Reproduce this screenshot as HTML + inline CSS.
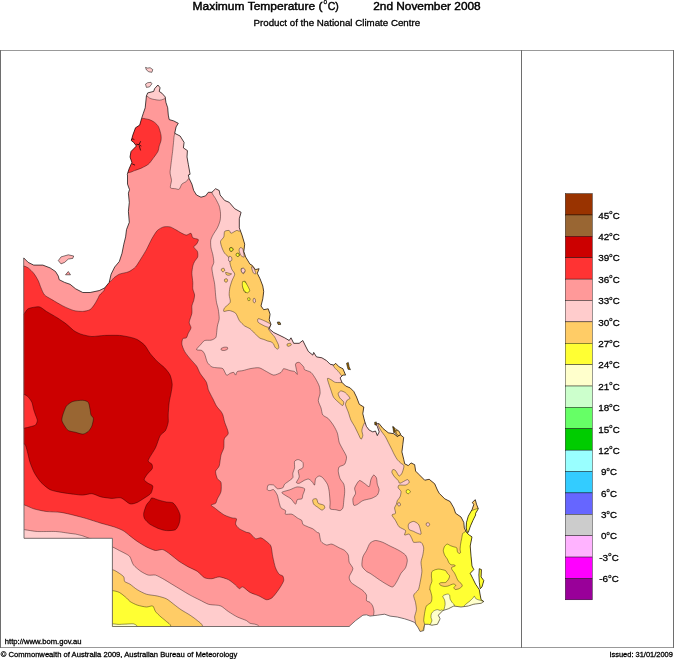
<!DOCTYPE html>
<html lang="en">
<head>
<meta charset="utf-8">
<title>Maximum Temperature (°C) 2nd November 2008</title>
<style>
html,body{margin:0;padding:0;background:#fff;}
body{width:674px;height:659px;overflow:hidden;position:relative;font-family:"Liberation Sans",sans-serif;color:#000;}
svg{position:absolute;left:0;top:0;display:block;}
text{font-family:"Liberation Sans",sans-serif;fill:#000;}
.tx text{stroke:#000;stroke-width:0.28;}
.tx text.tt{stroke-width:0.42;}
.rg path{stroke:#000;stroke-width:0.4;stroke-linejoin:round;}
</style>
</head>
<body>
<svg width="674" height="659" viewBox="0 0 674 659">
<rect x="0" y="0" width="674" height="659" fill="#fff"/>
<g fill="none" stroke="#999" stroke-width="1" shape-rendering="crispEdges"><line x1="0" y1="50.5" x2="674" y2="50.5"/><line x1="0" y1="647.5" x2="674" y2="647.5"/><line x1="0.5" y1="50" x2="0.5" y2="648" stroke="#6e6e6e"/><line x1="521.5" y1="50" x2="521.5" y2="648" stroke="#6e6e6e"/><line x1="673.5" y1="50" x2="673.5" y2="648" stroke="#6e6e6e"/></g>
<defs><clipPath id="qld"><path d="M23.7,257.9 28.2,262.4 33.7,265.1 42.8,265.1 50.1,267.9 55.5,271.5 58.3,276.1 59.2,279.7 64.6,282.4 70.1,284.3 75.6,288.8 82.8,292.5 90.1,292.5 99.2,290.6 104.7,287.9 109.2,282.4 111.1,274.2 114.7,267 119.3,261.5 122,253.3 123.8,244.2 125.6,236.9 126.5,229.6 129.3,222.3 128.4,211.4 129.3,202.3 128.4,193.2 129.5,189.6 127.5,184.1 127.5,175 127.3,174.3 129.1,168.8 131.9,162.4 130,157 131,151.5 136.4,146 133.7,142.4 131.3,140.6 132.8,135.1 135.5,127.8 139.7,125.1 141.5,118.7 143.3,113.3 145.2,107.8 146.4,96 147.7,92.9 153.7,91.4 154.6,88.7 157.9,85 160.1,87.8 159.2,91.4 161.9,93.2 165.2,96.9 165.9,102.3 167.7,107.8 168.3,115.1 169.2,119.6 173.7,120.9 178.3,123.3 176.1,126.9 174.7,133.3 180.1,136 184.1,142.4 183.4,147.9 187.4,150.6 187,157 188.3,164.3 190.1,174.3 188.3,175 189.2,178.6 191.9,184.1 193.7,190.5 196.5,195 201,197.2 205.6,195.9 208.3,192.3 211.9,192.3 215.6,188.7 219.2,190.5 220.1,195 224.7,200.5 229.2,202.3 234.7,208.7 241.1,212.3 239.3,218.7 239.3,227.8 242,235.1 244.7,244.2 243.8,251.5 245.6,256.9 250,264.2 251.9,265.1 255.5,269.6 259.1,268.7 257.3,273.3 260,278.7 262.8,286 263.7,291.5 262.8,298.8 261,306 263.7,309.7 268.2,308.8 270.1,314.2 269.2,319.7 271,324.3 269.2,328.8 273.7,332.5 279.1,335.1 284.6,337.8 289.2,340.5 291,337.8 293.7,343.3 299.2,343.3 302.8,340.5 305.5,346 308.3,351.4 312.8,355.1 313.7,352.4 316.5,356.9 321.9,357.8 326.5,360.6 330.1,364.2 333.8,365.1 335.6,363.3 339.2,366.9 342.9,368.7 345.6,375.1 342.9,375.1 340.1,377.9 342,382.4 345.6,386 350.2,387.9 353.8,391.5 356.5,397 359.3,404.3 363.8,407 362.8,413.7 364.6,421 366.4,426.4 369.2,430.1 372.8,431.9 375.5,431 377.3,435.6 379.2,431.9 377.3,426.4 375.5,423.7 379.2,423.7 382.8,428.3 388.3,432.8 393.7,433.7 397.4,436.5 400.1,434.6 403.7,437.4 402.8,444.7 401.9,451.9 403.7,459.2 404.7,463.8 408.3,465.6 411,462.9 414.7,464.7 415.6,471.1 419.2,474.7 424.7,480.2 429.2,479.3 434.7,483.8 437.4,490 439.2,493.3 444.7,498.8 450.1,501.5 453.8,507.9 455.6,513.3 461,517 463.8,522.4 464.3,527.9 466.5,532.5 469.2,535 472,536.9 470.2,546 471.1,556.9 472,566 473.8,569.6 470.2,573.3 472.9,578.7 475.6,584.2 479.3,589.7 480.2,595.1 481.1,599.7 483.8,601.5 481.1,603.3 473.8,604.2 468.3,606 461,607 453.8,606 448.3,608.8 442.8,610.6 438.3,615.2 440.1,618.8 437.4,624.3 431.9,625.2 428.3,624.3 424.6,624.3 423.7,630.6 420.1,631.5 418.3,627.9 414.6,622.4 410.1,620.6 404.6,618.8 397.3,617 390,616.1 384.6,614.2 377.3,615.2 370,616.1 366.5,614.8 362.9,615.2 355.6,620.6 349.2,626.4 349.3,626.5 112.4,626.5 112.4,538.3 24,538.3ZM475.3,499.7 472.3,502.4 473.8,504.6 472,509.7 468.3,516.1 466.5,522.4 466.1,527.9 467.4,532.5 468.3,532.3 470.5,525.9 472.9,520.5 475.6,515 475.6,513.3 478.3,508.8 476.5,504.2ZM479.3,568.7 481.4,569.6 481.1,576.9 483.8,580.6 482,586.9 480.2,588.7 479.3,582.4 478.9,575.1Z"/></clipPath></defs>
<g clip-path="url(#qld)" class="rg">
<rect x="0" y="50" width="521" height="597" fill="#ff9999"/>
<path d="M142.8,95.4C142.5,96.9 146.0,95.7 146.8,96C147.6,96.3 148.8,97.6 149.5,98C150.2,98.4 151.6,98.9 152.8,99.2C154.1,99.5 158.2,100.2 159.5,100.2C160.8,100.2 162.0,99.7 162.8,99.4C163.6,99.1 164.8,98.9 165.6,98C166.5,97.0 170.8,93.6 170.1,91.4C169.4,89.2 162.7,81.6 160.1,80.5C157.5,79.4 151.4,80.4 149.2,82.3C147.0,84.2 143.1,93.7 142.8,95.4Z" fill="#ffcccc"/>
<path d="M174.7,134.2C173.9,135.6 173.9,138.7 173.7,140.6C173.5,142.5 173.0,147.6 172.8,149.7C172.6,151.8 172.1,155.2 171.9,157C171.7,158.8 171.2,162.5 171,164.3C170.8,166.1 170.2,170.2 170.1,171.5C170.0,172.8 170.2,173.9 170.4,175C170.6,176.1 171.5,178.9 171.5,180.5C171.5,182.1 169.9,186.7 170.4,187.7C170.9,188.7 174.4,188.5 175.5,188.7C176.6,188.9 178.4,189.8 179.2,189.2C180.0,188.6 181.0,185.1 181.9,184.1C182.8,183.1 185.6,182.1 186.4,181.4C187.2,180.7 187.8,179.4 188.6,178.6C189.4,177.8 191.8,175.9 192.8,175C193.8,174.1 196.4,173.4 196.5,171.5C196.7,166.5 196.8,140.3 194.7,135.1C192.6,129.9 182.6,129.8 180.1,129.7C177.6,129.6 175.5,132.8 174.7,134.2Z" fill="#ffcccc"/>
<path d="M211.9,192.3C212.0,194.0 214.7,197.0 215.6,198.7C216.5,200.4 218.6,204.2 219.2,206C219.8,207.8 220.4,211.4 220.5,213.2C220.6,215.0 220.5,218.7 220.1,220.5C219.7,222.3 218.3,226.0 217.4,227.8C216.5,229.6 213.7,233.5 212.9,235.1C212.1,236.7 210.9,239.0 210.7,240.6C210.5,242.2 210.7,246.0 211,247.8C211.3,249.6 212.6,253.3 212.9,255.1C213.2,256.9 213.9,260.8 213.8,262.4C213.7,264.0 212.0,266.3 211.9,267.9C211.8,269.5 212.6,273.1 212.9,275.2C213.2,277.2 214.4,281.8 214.7,284.3C215.0,286.8 215.4,292.8 215.6,295C215.8,297.2 216.2,300.5 216.5,302.3C216.8,304.1 218.0,307.6 218.3,309.6C218.6,311.7 219.3,316.6 219.2,318.7C219.1,320.8 217.7,324.1 217.4,326C217.1,327.9 216.7,332.7 216.5,334.2C216.3,335.6 216.3,337.1 215.6,337.8C214.9,338.6 212.4,339.9 211,340.2C209.6,340.5 205.9,340.0 204.7,340.5C203.4,341.0 202.0,343.1 201,344.2C200.0,345.3 196.4,348.8 196.5,349.6C196.6,350.4 200.9,349.9 201.9,350.5C202.9,351.1 204.0,352.7 204.7,354.2C205.4,355.7 206.5,360.8 207.4,362.4C208.3,364.0 210.7,366.2 211.9,366.9C213.2,367.6 216.0,367.6 217.4,367.8C218.8,368.0 221.8,367.8 222.9,368.7C224.0,369.6 225.6,374.5 226.5,375.1C227.4,375.7 229.3,373.6 230.2,373.3C231.1,373.0 233.1,372.2 233.8,372.4C234.5,372.6 235.2,375.2 235.6,375.1C236.0,375.0 236.5,372.1 237.4,371.5C238.3,370.9 241.3,371.0 242.9,370.6C244.5,370.2 248.0,369.1 250,368.7C252.0,368.3 257.1,367.4 259.1,367.8C261.2,368.2 264.6,370.6 266.4,371.5C268.2,372.4 271.9,375.0 273.7,375.1C275.5,375.2 279.8,373.2 281,372.4C282.2,371.6 282.6,368.9 283.7,368.7C284.8,368.5 288.7,370.2 290.1,370.6C291.5,371.0 293.7,371.1 294.6,371.5C295.5,371.9 297.2,375.1 297.3,374.2C297.4,373.3 295.3,365.7 295.5,364.2C295.7,362.7 298.2,362.1 299.2,362.4C300.2,362.7 303.0,366.0 303.7,366.9C304.4,367.8 303.7,369.0 304.6,369.7C305.5,370.4 309.6,371.3 311,372.4C312.4,373.5 314.6,377.1 315.6,378.8C316.6,380.5 318.6,384.2 319.2,386C319.8,387.8 320.2,391.5 320.1,393.3C320.0,395.1 318.2,398.8 318.3,400.6C318.4,402.4 320.4,406.1 321,407.9C321.6,409.7 321.9,413.7 322.8,415C323.7,416.3 326.9,417.2 328.3,418.6C329.7,420.0 332.7,424.1 333.8,425.9C334.9,427.7 336.7,431.1 337.4,433.2C338.1,435.2 338.5,440.2 339.2,442.3C339.9,444.4 342.0,447.8 342.9,449.6C343.8,451.4 346.3,455.1 346.5,456.9C346.7,458.7 345.6,462.9 344.7,464.2C343.8,465.4 340.0,466.0 339.2,466.9C338.4,467.8 338.2,469.9 338.3,471.4C338.4,472.9 339.4,477.1 340.1,478.7C340.8,480.3 343.2,482.6 343.8,484.2C344.4,485.8 344.7,489.4 344.7,491.5C344.7,493.6 344.0,498.6 343.8,500.6C343.6,502.7 343.4,506.6 342.9,507.9C342.4,509.1 341.0,510.4 340.1,510.6C339.2,510.8 336.9,509.9 335.6,509.7C334.4,509.5 330.8,509.7 330.1,508.8C329.4,507.9 330.2,504.6 330.1,502.4C330.0,500.2 329.5,493.8 329.2,491.5C328.9,489.2 328.2,485.9 327.4,484.2C326.6,482.5 323.8,478.8 322.8,477.8C321.8,476.8 320.1,475.9 319.2,476C318.3,476.1 316.2,477.6 315.6,478.7C315.0,479.8 315.0,484.7 314.6,485.1C314.2,485.5 313.1,482.8 312.3,482C311.6,481.2 309.6,479.3 308.6,479.1C307.6,478.9 305.8,479.7 304.6,480.2C303.4,480.7 300.2,483.0 299.2,483.3C298.2,483.6 296.4,483.2 296.4,482.4C296.4,481.6 299.0,478.4 299.2,476.9C299.4,475.4 297.9,471.6 298.3,470.5C298.8,469.4 302.2,468.8 302.8,467.8C303.4,466.8 303.4,463.3 302.8,462.3C302.2,461.3 299.3,459.7 298.3,459.6C297.3,459.5 295.1,460.4 294.6,461.4C294.1,462.4 294.8,466.3 294.6,467.8C294.4,469.3 293.0,472.1 292.8,473.3C292.6,474.6 293.4,476.8 292.8,477.8C292.2,478.8 289.2,480.7 288.2,481.5C287.2,482.3 285.3,483.4 284.6,484.2C283.9,485.0 283.7,487.2 282.8,487.8C281.9,488.4 278.4,489.0 277.3,488.7C276.2,488.4 274.8,485.6 273.7,485.1C272.6,484.7 269.0,484.5 268.2,485.1C267.4,485.7 267.1,489.0 267.3,489.7C267.5,490.4 269.2,490.6 270,490.6C270.8,490.6 272.8,489.1 273.7,489.7C274.6,490.3 276.6,493.5 277.3,495.1C278.0,496.7 278.6,500.8 279.1,502.4C279.6,504.0 280.2,506.9 281,507.9C281.8,508.9 284.9,509.8 285.5,510.6C286.1,511.4 284.7,513.8 285.5,514.2C286.3,514.7 290.4,513.7 291.9,514.2C293.4,514.7 296.1,517.1 297.3,517.9C298.6,518.7 301.2,519.8 301.9,520.6C302.6,521.4 302.0,523.5 302.8,524.3C303.6,525.1 307.1,526.4 308.3,527C309.6,527.6 311.7,528.1 312.8,528.8C313.9,529.5 316.6,532.0 317.4,532.5C318.0,532.9 318.9,532.5 319.2,533.2C319.6,534.3 320.1,539.9 321,541.4C321.9,542.9 325.1,544.7 326.5,545C327.9,545.3 330.3,543.8 331.9,544.1C333.5,544.5 337.6,547.0 339.2,547.8C340.8,548.6 343.6,549.6 344.7,550.5C345.8,551.4 347.7,553.6 348.3,555.1C348.9,556.6 348.6,560.6 349.2,562.3C349.8,564.0 352.9,566.9 352.9,568.7C352.9,570.5 349.4,575.2 349.2,576.9C349.0,578.6 350.1,581.1 351.1,582.4C352.1,583.6 355.9,585.9 357.4,586.9C358.9,587.9 361.8,589.6 362.9,590.6C364.0,591.6 366.1,593.9 366.5,595.1C366.9,596.4 366.1,599.7 366.5,600.6C366.9,601.5 369.2,601.7 370,602.4C370.8,603.1 372.2,604.9 372.7,606C373.2,607.1 373.9,610.4 374,611.5C374.1,612.6 373.6,613.8 373.6,615.2C373.5,619.4 361.9,642.7 373,645C391.3,648.7 502.5,698.0 520,645C538.4,589.4 552.5,256.2 520,200C487.5,143.8 298.1,196.9 260,195C242.5,194.1 221.0,185.3 215,185C212.0,184.8 211.8,190.6 211.9,192.3Z" fill="#ffcccc"/>
<path d="M24.6,529.7C27.4,530.0 33.4,531.3 37.3,531.5C41.2,531.7 51.4,531.3 55.5,531.5C59.6,531.7 67.6,533.1 70.1,533.4C72.2,533.7 74.0,533.8 75.6,534.1C77.2,534.4 81.1,535.4 82.8,535.9C84.5,536.4 86.8,537.4 89.2,538.3C92.9,539.7 108.5,545.4 112.3,546.9C115.1,548.0 117.5,549.6 119.3,550.5C121.1,551.4 125.2,553.4 126.5,554.2C127.8,555.0 129.1,555.5 130,556.9C130.9,558.3 132.2,563.3 133.6,565.1C135.0,566.9 139.1,570.1 140.9,571.4C142.7,572.6 146.4,574.6 148.2,575.1C150.0,575.6 153.7,574.6 155.5,575.1C157.3,575.6 160.8,577.6 162.8,578.7C164.9,579.8 169.6,582.8 171.9,584.2C174.2,585.6 178.7,588.3 181,589.7C183.3,591.1 187.8,593.9 190.1,595.1C192.4,596.4 196.9,598.6 199.2,599.7C201.5,600.8 206.2,603.5 208.3,604.2C210.4,604.9 214.0,604.9 215.6,605.1C217.2,605.3 219.4,605.2 221,606C222.6,606.8 226.2,610.1 228.3,611.5C230.4,612.9 235.1,615.9 237.4,617C239.7,618.1 244.9,619.8 246.5,620.6C248.0,621.4 248.5,622.6 250,623.3C251.6,624.0 257.6,623.7 259.1,626.4C260.6,629.1 269.1,644.5 262,645C231.5,647.3 45.9,659.5 15,645C-15.9,630.5 13.8,543.4 15,529C15.3,525.4 21.8,529.4 24.6,529.7Z" fill="#ffcccc"/>
<path d="M281.9,492.4C282.4,491.6 288.2,490.4 290.1,489.7C292.0,489.0 295.5,487.0 297.3,486.9C299.1,486.8 303.9,487.7 304.6,488.7C305.3,489.7 303.1,493.8 302.8,495.1C302.5,496.4 302.6,498.2 301.9,498.8C301.2,499.4 298.1,499.0 297.3,499.7C296.5,500.4 296.3,504.3 295.5,504.2C294.7,504.1 292.1,499.8 291,498.8C289.9,497.8 287.5,496.8 286.4,496C285.3,495.2 281.4,493.2 281.9,492.4Z" fill="#ff9999"/>
<path d="M359.3,480.6C360.5,480.1 363.4,482.8 364.6,483.5C365.8,484.2 368.4,487.1 369.2,486.6C370.0,486.1 370.4,480.7 371,479.3C371.6,477.9 372.9,475.3 373.6,475.1C374.3,474.9 375.9,476.7 376.4,477.8C376.9,478.9 377.0,482.7 377.3,484.2C377.6,485.7 379.1,488.3 379.1,489.7C379.1,491.1 378.1,494.1 377.3,495.1C376.5,496.1 373.6,497.4 372.7,497.9C371.8,498.4 371.0,498.5 370,498.8C368.8,499.1 364.5,499.9 362.9,500.6C361.3,501.3 358.6,503.7 357.5,504.3C356.4,504.9 354.4,505.9 353.8,505.2C353.2,504.5 352.7,500.3 352.9,498.8C353.1,497.3 355.4,494.7 355.6,493.3C355.8,491.9 354.2,489.5 354.7,487.9C355.2,486.3 358.1,481.2 359.3,480.6Z" fill="#ff9999"/>
<path d="M366.5,550.5C365.6,552.2 363.5,555.0 362.9,556.9C362.3,558.8 361.6,564.2 362,566C362.4,567.8 365.5,570.5 366.5,571.4C367.5,572.3 368.7,572.5 370,573.3C371.6,574.3 377.1,578.2 379.1,579.6C381.2,581.0 384.7,583.3 386.4,584.2C388.1,585.1 391.4,587.4 392.8,586.9C394.2,586.4 396.3,582.3 397.3,580.6C398.3,578.9 400.0,574.9 401,573.3C402.0,571.7 404.7,569.4 405.5,567.8C406.3,566.2 407.3,562.1 407.3,560.5C407.3,558.9 406.5,556.4 405.5,555.1C404.5,553.9 401.0,551.6 399.1,550.5C397.2,549.4 392.1,547.0 390,546C387.9,545.0 384.5,543.0 382.7,542.3C380.9,541.6 377.1,540.4 375.5,540.5C373.9,540.6 371.1,542.0 370,543.2C368.9,544.5 367.4,548.8 366.5,550.5Z" fill="#ff9999"/>
<path d="M221,348.7C221.3,348.3 223.0,347.5 223.8,347.3C224.6,347.1 227.0,347.1 227.4,347.4C227.8,347.6 227.8,348.9 227.4,349.3C227.0,349.7 225.0,350.4 224.3,350.5C223.6,350.6 222.0,350.4 221.6,350.2C221.2,350.0 220.7,349.1 221,348.7Z" fill="#ff9999"/>
<path d="M224.7,231.4C224.0,232.2 224.3,235.6 223.8,236.9C223.3,238.2 220.7,240.1 220.5,241.5C220.3,242.9 221.5,246.3 222,247.8C222.5,249.3 223.8,252.0 224.7,253.3C225.6,254.6 228.5,256.5 229.2,257.9C229.9,259.3 229.8,262.7 230.2,264.2C230.5,265.7 231.4,268.4 232,269.7C232.6,270.9 234.7,272.8 234.7,274.2C234.7,275.6 232.6,278.9 232,280.6C231.4,282.3 230.2,286.1 229.8,287.9C229.5,289.7 229.1,293.2 229.2,295C229.2,296.8 230.8,300.7 230.2,302.3C229.6,303.9 225.5,306.6 224.7,307.7C223.9,308.8 223.2,311.0 223.8,311.4C224.4,311.8 227.7,310.3 229.2,310.5C230.7,310.7 234.3,311.9 235.6,313.2C236.9,314.4 238.2,318.9 239.3,320.5C240.4,322.1 243.4,325.0 244.7,326C246.0,327.0 248.7,327.7 250,328.7C251.3,329.7 254.2,333.0 255.5,334.2C256.8,335.4 259.0,337.6 260,338.2C261.0,338.8 262.8,339.1 263.7,339.4C264.6,339.7 266.4,340.6 267.3,340.9C268.2,341.2 270.1,341.5 270.9,341.8C271.6,342.1 272.8,342.9 273.3,343.6C273.8,344.3 274.6,346.6 275.1,347.3C275.6,348.0 277.0,349.1 277.5,349.1C278.0,349.1 278.7,348.2 278.8,347.6C278.9,347.0 278.5,345.1 278.2,344.2C277.9,343.3 276.8,341.4 276.4,340.5C275.9,339.6 275.2,337.7 274.6,336.9C274.1,336.1 272.6,334.8 272,334C271.4,333.2 270.1,331.6 269.7,330.9C269.2,330.2 267.7,329.1 268.4,328.5C269.1,327.9 274.8,328.8 275.5,326C276.2,323.2 274.4,310.7 273.7,305.9C273.0,301.1 272.0,294.5 270,287.7C268.0,280.9 260.4,258.8 257.5,251.5C254.6,244.2 248.8,232.2 246.5,229.6C244.6,227.5 240.6,231.0 239.3,231.1C238.2,231.2 237.5,230.2 236.5,230.5C235.5,230.8 232.0,233.3 231.1,233.3C230.2,233.3 230.0,230.7 229.2,230.5C228.4,230.3 225.4,230.6 224.7,231.4Z" fill="#ffcc66"/>
<path d="M240,247.8C240.4,247.6 242.2,247.7 242.7,248.7C243.2,249.8 244.4,256.1 244.2,256.9C244.0,257.7 241.5,256.2 240.9,255.4C240.3,254.6 239.2,251.4 239.1,250.5C239.0,249.6 239.6,248.0 240,247.8Z" fill="#ffcccc"/>
<path d="M251.5,266.9C251.6,266.3 253.2,267.0 253.7,267.8C254.2,268.6 255.9,273.0 255.9,273.6C255.9,274.2 253.9,273.7 253.3,272.9C252.8,272.1 251.4,267.5 251.5,266.9Z" fill="#ffcccc"/>
<path d="M258.2,318.7C258.9,318.5 262.2,319.8 263.7,320.5C265.2,321.2 269.7,323.2 270.4,324.1C271.1,325.0 269.8,327.2 269.1,327.4C268.4,327.6 266.0,326.6 264.6,326C263.2,325.4 259.0,323.2 258.2,322.3C257.4,321.4 257.5,318.9 258.2,318.7Z" fill="#ffcccc"/>
<path d="M241.3,268.7C241.5,268.2 243.2,268.4 243.7,268.7C244.1,269.0 244.9,270.8 244.9,271.4C244.9,272.0 244.1,273.5 243.7,273.6C243.3,273.7 242.1,273.0 241.8,272.4C241.5,271.8 241.1,269.2 241.3,268.7Z" fill="#ffcccc"/>
<path d="M253.7,298.4C253.9,298.2 254.9,298.4 255.1,298.8C255.3,299.2 255.6,301.5 255.5,302C255.4,302.5 254.3,303.0 254,302.8C253.7,302.6 253.1,301.2 253.1,300.6C253.1,300.1 253.4,298.6 253.7,298.4Z" fill="#ffcccc"/>
<path d="M241.4,268.8C241.7,268.4 243.3,268.0 243.8,268.2C244.3,268.4 245.2,270.0 245.1,270.6C245.0,271.2 243.8,272.9 243.3,273C242.8,273.1 241.6,272.0 241.4,271.5C241.2,271.0 241.1,269.2 241.4,268.8Z" fill="#ffcccc"/>
<path d="M229.1,256.5C229.5,256.1 231.2,256.7 231.5,257.2C231.8,257.7 232.0,259.7 231.8,260.2C231.6,260.7 230.4,261.4 230,261.4C229.6,261.4 228.6,261.1 228.5,260.5C228.4,259.9 228.7,256.9 229.1,256.5Z" fill="#ffcccc"/>
<path d="M221.6,268.8C221.9,268.5 223.4,268.0 223.8,268.2C224.2,268.4 224.8,270.1 224.7,270.6C224.6,271.1 223.3,271.9 222.9,271.9C222.5,271.9 221.6,271.0 221.4,270.6C221.2,270.2 221.3,269.1 221.6,268.8Z" fill="#ffcc66"/>
<path d="M225.6,272.4C225.9,272.2 228.4,273.1 229.2,273.3C229.9,273.5 231.6,273.7 231.6,273.9C231.6,274.1 229.8,275.1 229.2,275.2C228.6,275.3 226.9,275.2 226.5,274.8C226.1,274.4 225.3,272.6 225.6,272.4Z" fill="#ffcc66"/>
<path d="M224.7,279.2C225.0,278.9 226.5,278.6 226.9,278.8C227.3,279.0 227.7,280.6 227.6,281C227.5,281.4 226.4,282.4 226,282.4C225.6,282.4 224.7,281.6 224.5,281.2C224.3,280.8 224.4,279.5 224.7,279.2Z" fill="#ffcc66"/>
<path d="M287,344.2C287.3,343.8 289.9,343.2 290.4,343.3C290.9,343.4 291.5,344.7 291.2,345.1C290.9,345.5 288.4,346.5 287.9,346.4C287.4,346.3 286.7,344.6 287,344.2Z" fill="#ffcc66"/>
<path d="M229.6,248.2C229.9,247.8 231.5,247.3 232,247.5C232.5,247.7 233.5,249.2 233.4,249.7C233.3,250.2 232.0,251.4 231.6,251.5C231.2,251.6 230.1,251.0 229.8,250.6C229.6,250.2 229.3,248.6 229.6,248.2Z" fill="#ffff33"/>
<path d="M236.5,253.8C236.8,253.5 238.1,253.1 238.5,253.3C238.9,253.5 239.6,254.7 239.6,255.1C239.6,255.5 238.6,256.5 238.2,256.6C237.8,256.7 236.7,256.2 236.5,255.8C236.3,255.5 236.2,254.1 236.5,253.8Z" fill="#ffff33"/>
<path d="M243.3,282.1C243.5,281.3 245.0,281.0 245.4,281.5C245.8,282.0 246.2,285.0 246.5,286.1C246.8,287.2 247.7,289.8 247.5,290.6C247.3,291.4 245.6,292.7 245.1,292.5C244.6,292.3 243.5,290.1 243.3,288.8C243.1,287.5 243.0,283.0 243.3,282.1Z" fill="#ffff33"/>
<path d="M230,247.8C230.3,247.5 231.8,247.8 232.2,248.1C232.6,248.4 233.0,249.6 232.9,250C232.8,250.4 231.9,251.0 231.5,251.1C231.1,251.2 230.2,250.9 230,250.5C229.8,250.1 229.7,248.1 230,247.8Z" fill="#ffff33"/>
<path d="M236.4,253.6C236.7,253.3 238.1,253.0 238.4,253.2C238.7,253.4 239.2,255.0 239.1,255.4C239.0,255.8 238.0,256.5 237.6,256.5C237.2,256.5 236.3,255.8 236.2,255.4C236.0,255.0 236.1,253.9 236.4,253.6Z" fill="#ffff33"/>
<path d="M242.7,281.5C243.1,281.1 244.8,281.7 245.5,282.4C246.2,283.1 247.7,285.9 248.2,286.9C248.7,287.9 249.8,289.9 249.7,290.6C249.6,291.4 248.0,292.9 247.3,292.9C246.6,292.9 244.8,291.5 244.2,290.6C243.6,289.7 242.6,287.1 242.4,286C242.2,284.9 242.3,281.9 242.7,281.5Z" fill="#ffff33"/>
<path d="M247.7,298C247.9,297.7 249.4,297.6 249.7,297.9C250.0,298.2 250.2,299.9 250,300.2C249.8,300.5 248.5,300.9 248.2,300.6C247.9,300.3 247.5,298.3 247.7,298Z" fill="#ffff33"/>
<path d="M327.4,378.8C327.4,380.1 330.1,387.7 330.9,390C331.7,392.3 332.6,395.7 333.6,397.3C334.6,398.9 338.0,401.8 339.1,402.8C340.2,403.8 342.1,405.6 342.7,405.5C343.3,405.4 344.0,402.8 343.7,401.9C343.4,401.0 340.7,399.2 340,398.2C339.3,397.2 338.1,394.6 338.2,393.7C338.3,392.8 340.0,391.0 340.9,390.9C341.8,390.8 344.4,391.9 345.5,392.8C346.6,393.7 349.8,397.3 350,398.2C350.2,399.1 347.9,399.2 347.3,400C346.7,400.8 345.4,403.1 345.5,404.6C345.6,406.1 347.5,410.0 348.2,411.9C348.9,413.8 350.1,418.3 350.9,420.1C351.7,421.9 353.7,424.7 354.6,426.4C355.5,428.1 357.4,432.1 358.2,433.7C359.0,435.3 360.4,439.0 361,439.2C361.6,439.4 362.7,436.7 362.8,435.6C362.9,434.5 361.7,431.7 361.9,430.1C362.1,428.5 363.4,424.4 364.6,422.8C365.9,421.2 371.7,420.8 371.9,417.3C372.1,413.7 368.9,398.2 366.4,393.7C363.9,389.1 354.6,382.3 351.9,380.9C349.4,379.6 346.7,382.2 344.7,382.4C342.7,382.6 337.3,382.7 335.6,382.4C333.9,382.1 332.0,380.1 331,379.7C330.0,379.2 327.4,377.5 327.4,378.8Z" fill="#ffcc66"/>
<path d="M332.9,364.2C333.0,363.5 334.4,362.1 335.6,362.4C337.3,362.8 345.0,366.1 346.5,367.8C348.0,369.5 348.0,375.0 347.4,376C346.8,377.0 343.0,376.4 342,376C341.0,375.6 340.1,373.4 339.2,372.4C338.3,371.4 335.5,368.8 334.7,367.8C333.9,366.8 332.8,364.9 332.9,364.2Z" fill="#ffcc66"/>
<path d="M378.2,424.1C377.9,425.7 380.0,428.9 380.9,430.5C381.8,432.1 384.6,435.4 385.5,436.9C386.4,438.4 387.4,440.7 388.2,442.3C389.0,443.9 391.1,448.0 391.9,449.6C392.7,451.2 393.9,453.9 394.6,455.1C395.3,456.4 396.5,458.6 397.3,459.6C398.1,460.6 400.2,462.6 401,463.3C401.8,464.0 403.4,464.5 403.7,465.1C404.0,465.7 403.9,466.8 403.7,467.8C403.5,468.8 402.5,472.3 401.9,473.3C401.3,474.3 399.9,476.4 399.1,476C398.3,475.6 396.3,471.3 395.5,470.5C394.7,469.7 393.2,469.4 392.8,469.6C392.4,469.8 391.7,471.5 391.9,472.4C392.1,473.3 393.8,475.9 394.6,476.9C395.4,477.9 397.5,479.8 398.2,480.6C398.9,481.4 398.9,483.4 400,483.3C401.1,483.2 406.2,479.7 407.3,479.6C408.4,479.5 409.4,481.7 409.2,482.4C409.0,483.1 406.8,484.8 405.5,485.1C404.2,485.4 400.0,484.8 399.1,485.1C398.2,485.4 398.0,487.0 398.2,487.8C398.4,488.6 400.8,490.4 401,491.5C401.2,492.6 400.5,495.8 400,496.9C399.5,498.0 397.8,499.7 397.3,500.6C396.9,501.5 396.7,503.3 396.4,504.2C396.1,505.1 394.7,506.8 394.6,507.9C394.5,509.0 395.8,512.4 395.5,513.3C395.2,514.2 391.9,514.1 391.9,515C391.9,515.9 394.6,519.0 395.5,520.5C396.4,522.0 397.9,525.5 399.1,526.8C400.4,528.0 404.8,529.5 405.5,530.5C406.2,531.5 404.1,534.5 404.6,535C405.1,535.5 408.3,533.6 409.2,534.1C410.1,534.6 411.3,537.7 411.9,538.7C412.5,539.7 412.6,541.8 413.7,542.3C414.8,542.8 419.8,541.6 421,542.3C422.2,543.0 423.5,546.2 423.7,547.8C423.9,549.4 423.1,553.3 422.8,555.1C422.5,556.9 421.1,560.3 421,562.3C420.9,564.3 422.0,568.9 421.9,571.4C421.8,573.9 420.6,580.1 420.1,582.4C419.7,584.7 419.1,588.1 418.3,589.7C417.5,591.3 414.1,593.5 413.7,595.1C413.3,596.7 415.2,600.6 415.5,602.4C415.8,604.2 416.5,607.9 416.4,609.7C416.3,611.5 414.7,615.4 414.6,617C414.5,618.6 415.3,620.6 415.5,622.4C415.7,624.2 415.8,628.7 416.4,631.5C417.0,634.3 414.7,644.3 420,645C432.9,646.7 507.5,673.4 520,645C532.5,616.6 537.1,446.4 520,418C502.9,389.6 400.7,417.2 383,418C380.1,418.1 378.5,422.5 378.2,424.1Z" fill="#ffcc66"/>
<path d="M409.2,523.2C409.9,522.6 412.6,521.3 413.7,521.4C414.8,521.5 417.5,523.2 418.3,524.1C419.1,525.0 419.8,527.5 420.1,528.7C420.4,530.0 421.4,533.5 421,534.1C420.6,534.7 418.2,533.5 417.3,533.2C416.4,532.9 414.7,531.9 413.7,531.4C412.7,530.9 409.9,530.3 409.2,529.6C408.5,528.9 408.2,526.7 408.2,525.9C408.2,525.1 408.5,523.8 409.2,523.2Z" fill="#ffcccc"/>
<path d="M426.4,523.2C426.7,522.9 428.2,522.6 428.6,522.8C429.0,523.0 429.8,524.6 429.7,525C429.6,525.4 428.3,526.3 427.9,526.3C427.5,526.3 426.5,525.6 426.3,525.2C426.1,524.8 426.1,523.5 426.4,523.2Z" fill="#ffcccc"/>
<path d="M397.9,503C398.1,502.8 399.4,502.5 399.7,502.8C400.0,503.1 400.7,504.7 400.6,505.1C400.5,505.5 399.2,506.0 398.8,506C398.4,506.0 397.8,505.2 397.7,504.8C397.6,504.4 397.6,503.2 397.9,503Z" fill="#ffcccc"/>
<path d="M406.4,490.2C406.7,489.8 408.1,489.5 408.6,489.7C409.1,489.9 410.4,491.0 410.4,491.5C410.4,492.0 409.1,493.5 408.6,493.7C408.1,493.9 406.7,493.2 406.4,492.8C406.1,492.4 406.1,490.6 406.4,490.2Z" fill="#ffff33"/>
<path d="M312.8,499.7C313.2,499.0 315.8,498.4 316.5,498.8C317.2,499.2 317.4,502.5 318.3,503.3C319.2,504.1 322.9,504.5 323.7,505.1C324.5,505.7 324.9,507.3 324.7,507.9C324.5,508.5 322.8,510.2 321.9,510.1C321.0,510.0 318.4,507.7 317.4,507C316.4,506.3 314.3,505.1 313.7,504.2C313.1,503.3 312.4,500.4 312.8,499.7Z" fill="#ffcc66"/>
<path d="M465.9,530.8C465.4,532.3 463.2,532.5 462.7,533.5C462.2,534.5 461.9,537.5 461.6,538.8C461.3,540.1 460.8,542.8 460.6,544.1C460.4,545.4 460.1,548.3 460.1,549.4C460.1,550.5 460.7,552.1 460.6,552.6C460.5,553.1 459.4,553.6 459,553.5C458.6,553.4 457.7,552.3 457.4,551.6C457.1,550.9 457.2,548.4 456.7,547.8C456.2,547.2 454.5,547.1 453.7,546.8C452.9,546.5 451.3,546.0 450.5,545.7C449.7,545.4 448.0,544.0 447.3,544.1C446.6,544.2 445.2,545.4 444.7,546.2C444.2,547.0 443.3,549.4 443.3,550.5C443.3,551.6 444.2,554.2 444.7,555.3C445.2,556.4 446.8,558.1 447.3,559C447.8,559.9 448.4,562.0 448.9,562.7C449.4,563.4 450.4,564.5 451,564.8C451.6,565.1 453.2,564.7 453.7,564.8C454.2,564.9 455.6,565.6 455.3,565.9C455.0,566.2 452.0,567.0 451.6,567.5C451.2,568.0 451.9,569.4 452.3,570.1C452.7,570.8 454.0,572.1 454.5,573C455.0,573.9 456.1,576.3 456.5,577.3C456.9,578.3 457.5,580.0 458.1,580.8C458.7,581.6 460.6,582.7 461.1,583.4C461.6,584.1 462.5,585.4 462.2,586.1C461.9,586.8 459.9,588.3 459,588.7C458.1,589.1 455.9,589.6 455.3,589.5C454.7,589.4 453.8,588.0 453.9,587.5C454.0,587.0 455.8,585.7 455.8,585.3C455.8,584.9 454.3,584.1 453.7,584C453.1,583.9 451.7,584.4 451,584.7C450.3,585.0 448.7,585.9 447.8,586.1C446.9,586.3 445.0,586.5 444.1,586.4C443.2,586.3 441.5,585.8 440.9,585.5C440.3,585.2 439.3,584.1 439.3,583.7C439.3,583.4 440.2,582.8 440.9,582.7C441.7,582.5 444.8,582.8 445.7,582.4C446.6,582.0 447.7,580.5 448.2,579.7C448.7,578.9 449.7,576.8 449.6,576C449.5,575.2 447.8,574.0 447.3,573.3C446.8,572.6 446.4,571.2 445.7,570.7C445.0,570.2 442.9,569.8 442,569.6C441.1,569.4 439.6,569.1 438.8,569.1C438.0,569.1 436.5,569.3 435.6,569.6C434.7,569.9 432.4,570.9 431.9,571.7C431.4,572.5 431.4,574.8 431.4,576C431.4,577.2 432.0,580.1 431.9,581.3C431.8,582.5 430.6,584.4 430.3,585.5C430.0,586.6 429.8,589.3 429.8,589.8C429.8,589.9 430.1,589.6 430.1,589.7C430.4,590.6 431.8,595.3 431.9,596.9C432.0,598.5 431.7,601.3 431,602.4C430.3,603.5 427.2,604.6 426.4,606C425.6,607.4 424.9,611.5 424.6,613.3C424.3,615.1 423.7,619.2 423.7,620.6C423.7,622.0 424.5,622.9 424.6,624.3C424.7,627.0 417.8,641.0 424.6,642.5C436.5,645.1 508.1,661.4 520,645C531.9,628.6 526.2,527.8 520,511C513.8,494.2 477.3,508.5 470.5,511C463.7,513.5 466.9,528.0 465.9,530.8Z" fill="#ffff33"/>
<path d="M442.8,596C443.1,595.2 446.5,594.2 447.4,594.1C448.2,594.0 449.3,594.4 449.6,595C449.9,595.6 449.8,598.1 450.1,599.1C450.5,600.1 451.8,602.0 452.4,602.8C452.9,603.6 454.4,604.4 454.5,605.5C454.6,606.6 454.3,611.1 453,612C451.7,612.9 445.0,613.9 444,613C443.0,612.1 445.0,606.2 445.1,604.6C445.2,603.0 444.9,601.2 444.6,600.1C444.3,599.0 442.5,596.8 442.8,596Z" fill="#ffffcc"/>
<path d="M431.4,613.7C431.7,612.9 433.0,611.5 433.7,611C434.4,610.5 436.5,609.7 437.3,609.6C438.1,609.5 439.5,610.5 440.1,610.5C440.8,610.5 442.0,609.3 442.5,610C443.0,610.7 443.9,614.2 444,616C444.1,617.8 444.0,622.2 443,624C442.0,625.8 437.8,629.5 436,630C434.2,630.5 429.5,629.1 429,628C428.5,626.9 431.6,622.3 431.9,621C432.1,619.7 431.1,618.3 431,617.4C430.9,616.5 431.1,614.5 431.4,613.7Z" fill="#ffffcc"/>
<path d="M464.5,605.5C465.1,604.5 468.9,601.9 470,600.9C471.1,599.9 472.7,598.3 473.2,597.7C473.7,597.2 473.9,596.0 474.3,596.2C474.7,596.4 475.6,598.6 476.4,599.1C477.2,599.6 479.9,600.1 480.9,600.5C481.8,600.9 483.6,601.3 484,602C484.4,602.7 485.0,605.4 484,606C483.0,606.6 477.8,606.5 476,607C474.2,607.5 471.4,609.8 470,610C468.6,610.2 465.7,609.6 465,609C464.3,608.4 463.9,606.5 464.5,605.5Z" fill="#ffffcc"/>
<path d="M112.3,569.6C114.7,570.1 117.9,572.4 119.3,573.3C120.7,574.2 123.1,575.9 123.8,576.9C124.5,577.9 123.9,580.6 124.7,581.5C125.5,582.4 128.4,583.2 130,584.2C131.6,585.2 135.2,588.5 137.3,589.7C139.4,591.0 143.9,593.4 146.4,594.2C148.9,595.0 154.8,595.4 157.3,596C159.8,596.6 164.4,597.8 166.4,598.8C168.4,599.8 171.9,602.8 173.7,604.2C175.5,605.6 178.9,608.3 181,609.7C183.1,611.1 188.0,613.8 190.1,615.2C192.2,616.6 195.8,619.2 197.4,620.6C199.0,622.0 201.9,623.5 202.8,626.4C203.8,629.4 212.0,643.7 205,645C192.2,647.3 113.1,654.5 100,645C86.9,635.5 98.5,578.4 100,569C100.8,564.4 109.9,569.1 112.3,569.6Z" fill="#ffcc66"/>
<path d="M112.3,590.6C114.7,590.9 117.5,591.5 119.3,592.4C121.1,593.3 125.2,596.8 126.5,597.9C127.8,599.0 128.7,600.6 130,601.5C131.3,602.4 135.2,604.4 137.3,605.1C139.4,605.8 144.5,606.9 146.4,607C148.3,607.1 151.7,605.4 152.8,606C153.9,606.6 154.5,610.1 155.5,611.5C156.5,612.9 159.6,615.8 161,617C162.4,618.2 165.2,620.3 166.4,621.5C167.7,622.7 170.4,623.9 171,626.4C171.7,629.3 178.8,643.2 172,645C163.1,647.3 109.0,651.9 100,645C91.0,638.1 98.5,596.8 100,590C101.0,585.4 109.9,590.3 112.3,590.6Z" fill="#ffff33"/>
<path d="M108.3,625.3C110.7,622.7 116.6,624.6 119.3,624.4C122.0,624.2 128.2,624.0 130,623.9C131.4,623.9 132.7,623.6 133.6,623.9C134.5,624.2 136.8,625.0 137.3,626.4C137.8,627.8 140.3,633.7 137.3,635.2C132.6,637.5 103.6,646.2 100,645C96.4,643.8 105.9,627.9 108.3,625.3Z" fill="#ffffcc"/>
<path d="M23.7,266C25.1,266.2 26.9,267.0 28.2,267.9C29.4,268.8 32.5,271.7 33.7,273.3C35.0,274.9 37.3,278.8 38.2,280.6C39.1,282.4 40.2,286.1 41,287.9C41.8,289.7 43.2,293.5 44.6,295C46.0,296.5 49.6,298.2 51.9,299.6C54.2,301.0 60.1,304.5 62.8,305.9C65.5,307.3 71.2,309.8 73.7,310.5C76.2,311.2 80.8,311.5 82.8,311.4C84.8,311.3 88.6,310.5 90.1,309.6C91.6,308.7 93.7,305.6 94.7,304.1C95.7,302.6 97.7,298.8 98.3,297.7C98.8,296.7 98.9,295.9 99.6,295C100.4,293.9 104.5,291.1 104.7,288.8C104.9,286.6 100.4,277.9 101,277C101.6,276.1 108.2,281.4 109.8,281.5C111.4,281.6 112.6,278.8 113.8,277.9C115.0,277.0 117.7,274.9 119.3,274.2C120.9,273.5 125.2,272.8 126.5,272.4C127.8,272.0 128.9,271.8 130,271.1C131.1,270.4 134.1,268.5 135.5,267C136.9,265.5 139.5,261.0 140.9,258.8C142.3,256.6 145.0,252.2 146.4,249.7C147.8,247.2 150.5,241.1 151.9,238.7C153.3,236.3 155.8,232.0 157.3,230.5C158.8,229.0 162.1,227.3 163.7,226.9C165.3,226.5 168.6,226.6 170.1,226.9C171.6,227.2 174.0,228.8 175.5,229.6C177.0,230.4 180.5,232.6 181.9,233.3C183.3,234.0 185.3,235.1 186.4,235.1C187.5,235.1 190.2,233.0 191,233.3C191.8,233.6 191.9,237.0 192.8,237.8C193.7,238.6 197.8,238.8 198.3,239.6C198.8,240.4 197.1,243.3 196.5,244.2C195.9,245.1 193.6,246.0 193.7,246.9C193.8,247.8 196.9,250.2 197.4,251.5C197.9,252.8 198.0,255.6 197.7,256.9C197.3,258.1 195.2,260.4 194.6,261.5C194.0,262.6 193.1,264.5 192.8,266C192.5,267.5 191.9,271.2 191.9,273.3C191.9,275.4 192.7,280.5 192.8,282.4C192.9,284.3 192.6,287.2 192.8,288.8C193.0,290.4 194.5,293.5 194.6,295C194.7,296.5 194.0,299.1 193.7,300.5C193.4,301.9 192.1,304.3 191.9,305.9C191.7,307.5 192.2,311.1 191.9,313.2C191.6,315.2 189.3,320.5 189.2,322.3C189.1,324.1 191.1,326.4 191,327.8C190.9,329.2 188.9,331.9 188.3,333.2C187.7,334.4 187.1,337.1 186.4,337.8C185.7,338.5 183.4,337.9 182.8,338.7C182.2,339.5 181.7,342.6 181.9,344.2C182.1,345.8 183.6,349.6 184.6,351.4C185.6,353.2 188.6,356.9 190.1,358.7C191.6,360.5 195.2,364.2 196.5,366C197.8,367.8 198.8,371.2 200.1,373.3C201.3,375.4 205.5,380.3 206.5,382.4C207.5,384.4 207.5,387.6 208.3,389.7C209.1,391.8 211.9,396.8 212.9,398.8C213.9,400.9 215.5,404.5 216.5,406.1C217.5,407.7 220.2,410.4 221,411.5C221.8,412.6 222.4,413.6 222.9,415C223.4,416.4 224.0,420.0 224.7,422.3C225.4,424.6 228.4,431.1 228.3,433.2C228.2,435.2 224.9,436.9 224.3,438.7C223.7,440.5 224.2,445.8 223.8,447.8C223.4,449.9 221.6,452.8 221,455.1C220.4,457.4 219.9,464.0 219.2,466C218.5,468.0 215.8,469.8 215.6,471.4C215.4,473.0 216.7,477.3 217.4,478.7C218.1,480.1 220.6,480.8 221,482.4C221.4,484.0 221.4,489.4 221,491.5C220.6,493.6 218.1,497.3 217.4,498.8C216.7,500.3 216.4,502.5 215.6,503.3C214.8,504.1 211.1,504.5 211,505.1C210.9,505.7 213.7,507.1 214.7,507.9C215.7,508.7 217.9,510.6 219.2,511.5C220.4,512.4 223.1,514.4 224.7,515.2C226.3,516.0 230.5,517.5 232,517.9C233.5,518.3 236.1,518.0 236.5,518.8C236.9,519.6 235.2,522.9 235.6,524.1C235.9,525.3 237.9,527.7 239.3,528.7C240.7,529.7 245.2,531.7 246.5,532.3C247.8,532.8 248.9,532.4 250,533.2C251.1,534.0 254.1,538.1 255.5,538.7C256.9,539.3 259.5,537.5 260.9,537.8C262.3,538.1 265.1,540.4 266.4,541.4C267.6,542.4 270.1,544.1 270.9,546C271.7,547.9 272.2,554.2 272.8,556.9C273.4,559.6 274.7,565.6 275.5,567.8C276.3,570.0 278.2,573.2 279.1,574.2C280.0,575.2 282.2,575.2 282.8,576C283.4,576.8 283.9,579.4 283.7,580.6C283.5,581.9 281.8,584.6 281,586C280.2,587.4 278.4,590.0 277.3,591.5C276.2,593.0 273.3,596.9 271.9,597.9C270.5,598.9 268.0,599.9 266.4,599.7C264.8,599.5 261.2,596.9 259.1,596C257.1,595.1 252.0,593.5 250,592.4C248.0,591.3 244.2,587.4 242.9,586.9C241.6,586.4 240.2,588.9 239.3,588.7C238.4,588.5 237.0,586.2 235.6,585.1C234.2,584.0 230.4,580.6 228.3,579.6C226.2,578.6 221.2,577.0 219.2,576.9C217.1,576.8 213.7,578.6 211.9,578.7C210.1,578.8 206.5,578.7 204.7,577.8C202.9,576.9 199.4,572.8 197.4,571.4C195.4,570.0 190.6,568.1 188.3,566.9C186.0,565.6 181.5,563.0 179.2,561.4C176.9,559.8 172.1,555.7 170.1,554.2C168.1,552.7 164.6,550.1 162.8,549.6C161.0,549.1 157.6,550.8 155.5,550.5C153.4,550.2 148.7,548.0 146.4,546.9C144.1,545.8 139.4,542.8 137.3,541.4C135.2,540.0 131.8,537.3 130,535.9C128.2,534.5 124.9,531.6 122.9,530.5C120.9,529.4 116.5,527.7 113.8,526.8C111.1,525.9 104.4,524.2 101,523.2C97.6,522.2 89.9,519.6 86.5,518.6C83.1,517.6 76.9,516.0 73.7,515.2C70.5,514.4 64.4,512.9 61,512.4C57.6,511.9 49.8,511.9 46.4,511.5C43.0,511.1 36.4,509.6 33.7,508.8C31.0,508.0 26.7,505.6 24.6,505.1C22.6,504.6 17.4,507.9 17.3,505.1C16.4,475.2 16.5,295.9 17.3,266C17.4,263.6 22.3,265.8 23.7,266Z" fill="#ff3333"/>
<path d="M142.2,118.4C143.8,118.3 147.6,119.1 149.2,119.6C150.8,120.1 153.4,121.5 154.6,122.4C155.8,123.3 157.8,125.3 158.6,126.9C159.4,128.5 160.7,133.4 161,135.1C161.3,136.8 161.2,139.2 161,140.6C160.8,142.0 159.6,144.6 159.2,146C158.8,147.4 158.7,149.9 157.9,151.5C157.1,153.1 154.0,157.2 152.8,158.8C151.6,160.4 149.7,163.2 148.3,164.3C146.9,165.4 143.6,167.1 141.9,167.9C140.2,168.7 136.2,170.0 134.6,170.6C133.0,171.2 131.2,172.4 129.1,172.5C127.0,172.6 119.2,175.5 118.2,171.5C116.8,165.9 115.9,134.2 118.2,127.8C120.5,121.4 133.4,121.8 136.4,120.6C138.6,119.7 140.6,118.5 142.2,118.4Z" fill="#ff3333"/>
<path d="M17.3,314.1C17.4,311.7 22.3,314.8 23.7,314.1C25.1,313.4 26.3,309.6 28.2,308.7C30.1,307.8 36.8,306.5 39.1,306.8C41.4,307.1 44.1,310.0 46.4,311.4C48.7,312.8 54.8,316.2 57.3,317.8C59.8,319.4 64.4,322.5 66.4,324.1C68.5,325.7 71.9,329.2 73.7,330.5C75.5,331.8 78.7,333.4 81,334.2C83.3,334.9 88.9,336.4 91.9,336.5C94.9,336.6 101.3,335.5 104.7,335.4C108.1,335.3 116.1,335.2 119.3,335.4C122.5,335.6 127.8,336.7 130,337.2C132.2,337.7 135.5,338.6 137.3,339.6C139.1,340.6 143.0,343.4 144.6,345.1C146.2,346.8 148.4,351.2 150,353.3C151.6,355.4 155.5,359.7 157.3,361.5C159.1,363.3 163.0,366.1 164.6,367.8C166.2,369.5 169.2,373.1 170.1,375.1C171.0,377.2 172.1,381.9 172.2,384.2C172.3,386.5 171.4,391.0 171,393.3C170.6,395.6 169.5,399.7 169.2,402.4C168.8,405.1 168.3,412.5 168.2,415C168.1,417.5 168.5,420.4 168.2,422.3C167.9,424.2 166.5,428.8 165.5,430.5C164.5,432.2 161.2,433.7 160,435.9C158.8,438.1 157.0,444.7 155.5,447.8C154.0,450.9 148.6,458.4 148.2,460.5C147.8,462.4 151.4,463.2 151.9,464.2C152.4,465.2 152.8,467.4 152.2,468.7C151.6,469.9 148.3,472.8 147.3,474.2C146.3,475.6 144.1,478.5 144.2,479.6C144.3,480.7 147.1,482.5 148.2,483.3C149.3,484.1 152.5,484.8 152.8,486C153.1,487.2 151.9,491.8 150.9,493.3C149.9,494.8 146.3,496.8 144.6,497.9C142.9,499.0 139.1,501.6 137.3,502.4C135.5,503.1 132.0,504.5 130,503.9C128.0,503.3 123.3,498.6 121.1,497.9C118.8,497.2 114.5,498.5 112,498.4C109.5,498.3 103.5,497.5 101,496.9C98.5,496.3 94.2,493.9 91.9,493.7C89.6,493.5 85.1,495.0 82.8,495.1C80.5,495.2 76.4,494.5 73.7,494.2C71.0,493.9 64.0,493.0 61,492.4C58.0,491.8 52.6,490.9 50.1,489.7C47.6,488.4 42.9,484.4 41,482.4C39.1,480.3 36.0,475.8 34.6,473.3C33.2,470.8 30.9,465.0 30,462.3C29.1,459.6 28.0,453.7 27.3,451.4C26.6,449.1 25.9,445.0 24.6,444.1C23.4,443.2 17.5,446.9 17.3,444.1C16.4,427.9 16.5,330.4 17.3,314.1Z" fill="#cc0000"/>
<path d="M17.3,394.2C17.8,391.8 22.3,393.8 23.7,394.2C25.1,394.6 27.2,396.0 28.2,397C29.2,398.0 31.2,400.8 31.9,402.4C32.6,404.0 33.2,408.1 33.7,409.7C34.2,411.3 35.0,413.6 35.5,415C36.0,416.4 37.3,419.2 37.3,420.5C37.3,421.8 36.4,424.2 35.5,425C34.6,425.8 31.4,426.4 30,426.8C28.6,427.2 26.2,427.9 24.6,428.1C23.0,428.3 17.9,430.8 17.3,428.1C16.4,423.9 16.5,398.4 17.3,394.2Z" fill="#ff3333"/>
<path d="M151.9,497.9C153.0,497.8 157.3,499.7 159.1,500.2C160.9,500.7 164.7,501.7 166.4,502C168.1,502.3 171.5,502.1 172.8,502.8C174.1,503.5 176.1,506.3 177,507.9C177.9,509.4 179.8,513.3 180.1,515.2C180.4,517.1 179.8,521.5 179.2,523.3C178.6,525.1 177.1,528.8 175.5,529.7C173.9,530.6 168.5,530.7 166.4,530.6C164.3,530.5 161.2,529.6 159.1,528.8C157.0,528.0 151.8,525.5 150,524.3C148.2,523.0 145.4,520.2 144.6,518.8C143.8,517.4 143.5,515.0 143.7,513.3C143.9,511.6 145.6,506.7 146.4,505.1C147.2,503.5 149.3,501.5 150,500.6C150.7,499.7 150.8,497.9 151.9,497.9Z" fill="#cc0000"/>
<path d="M62.8,415C63.4,413.2 65.2,407.8 66.4,406.1C67.7,404.4 70.8,402.2 72.8,401.5C74.8,400.8 80.9,400.2 82.8,400.3C84.7,400.4 87.4,401.2 88.3,402.4C89.2,403.6 89.8,408.1 90.1,409.7C90.4,411.3 90.6,413.9 91,415C91.4,416.1 93.3,417.2 93.4,418.6C93.5,420.0 92.5,424.3 91.9,425.9C91.3,427.5 89.4,430.4 88.3,431.4C87.2,432.4 84.4,434.0 82.8,434.1C81.2,434.2 77.4,432.8 75.6,432.3C73.8,431.9 69.7,431.3 68.3,430.5C66.9,429.7 65.4,427.1 64.6,425.9C63.8,424.6 62.1,421.9 61.9,420.5C61.7,419.1 62.2,416.8 62.8,415Z" fill="#996633"/>
</g>
<path d="M483.8,601.5 481.1,603.3 473.8,604.2 468.3,606 461,607 453.8,606 448.3,608.8 442.8,610.6 438.3,615.2 440.1,618.8 437.4,624.3 431.9,625.2 428.3,624.3 424.6,624.3 423.7,630.6 420.1,631.5 418.3,627.9 414.6,622.4 410.1,620.6 404.6,618.8 397.3,617 390,616.1 384.6,614.2 377.3,615.2 370,616.1 366.5,614.8 362.9,615.2 355.6,620.6 349.2,626.4 349.3,626.5 112.4,626.5 112.4,538.3 24,538.3 23.7,257.9" fill="none" stroke="#555" stroke-width="0.8" stroke-linejoin="miter"/>
<path d="M23.7,257.9 28.2,262.4 33.7,265.1 42.8,265.1 50.1,267.9 55.5,271.5 58.3,276.1 59.2,279.7 64.6,282.4 70.1,284.3 75.6,288.8 82.8,292.5 90.1,292.5 99.2,290.6 104.7,287.9 109.2,282.4 111.1,274.2 114.7,267 119.3,261.5 122,253.3 123.8,244.2 125.6,236.9 126.5,229.6 129.3,222.3 128.4,211.4 129.3,202.3 128.4,193.2 129.5,189.6 127.5,184.1 127.5,175 127.3,174.3 129.1,168.8 131.9,162.4 130,157 131,151.5 136.4,146 133.7,142.4 131.3,140.6 132.8,135.1 135.5,127.8 139.7,125.1 141.5,118.7 143.3,113.3 145.2,107.8 146.4,96 147.7,92.9 153.7,91.4 154.6,88.7 157.9,85 160.1,87.8 159.2,91.4 161.9,93.2 165.2,96.9 165.9,102.3 167.7,107.8 168.3,115.1 169.2,119.6 173.7,120.9 178.3,123.3 176.1,126.9 174.7,133.3 180.1,136 184.1,142.4 183.4,147.9 187.4,150.6 187,157 188.3,164.3 190.1,174.3 188.3,175 189.2,178.6 191.9,184.1 193.7,190.5 196.5,195 201,197.2 205.6,195.9 208.3,192.3 211.9,192.3 215.6,188.7 219.2,190.5 220.1,195 224.7,200.5 229.2,202.3 234.7,208.7 241.1,212.3 239.3,218.7 239.3,227.8 242,235.1 244.7,244.2 243.8,251.5 245.6,256.9 250,264.2 251.9,265.1 255.5,269.6 259.1,268.7 257.3,273.3 260,278.7 262.8,286 263.7,291.5 262.8,298.8 261,306 263.7,309.7 268.2,308.8 270.1,314.2 269.2,319.7 271,324.3 269.2,328.8 273.7,332.5 279.1,335.1 284.6,337.8 289.2,340.5 291,337.8 293.7,343.3 299.2,343.3 302.8,340.5 305.5,346 308.3,351.4 312.8,355.1 313.7,352.4 316.5,356.9 321.9,357.8 326.5,360.6 330.1,364.2 333.8,365.1 335.6,363.3 339.2,366.9 342.9,368.7 345.6,375.1 342.9,375.1 340.1,377.9 342,382.4 345.6,386 350.2,387.9 353.8,391.5 356.5,397 359.3,404.3 363.8,407 362.8,413.7 364.6,421 366.4,426.4 369.2,430.1 372.8,431.9 375.5,431 377.3,435.6 379.2,431.9 377.3,426.4 375.5,423.7 379.2,423.7 382.8,428.3 388.3,432.8 393.7,433.7 397.4,436.5 400.1,434.6 403.7,437.4 402.8,444.7 401.9,451.9 403.7,459.2 404.7,463.8 408.3,465.6 411,462.9 414.7,464.7 415.6,471.1 419.2,474.7 424.7,480.2 429.2,479.3 434.7,483.8 437.4,490 439.2,493.3 444.7,498.8 450.1,501.5 453.8,507.9 455.6,513.3 461,517 463.8,522.4 464.3,527.9 466.5,532.5 469.2,535 472,536.9 470.2,546 471.1,556.9 472,566 473.8,569.6 470.2,573.3 472.9,578.7 475.6,584.2 479.3,589.7 480.2,595.1 481.1,599.7 483.8,601.5M475.3,499.7 472.3,502.4 473.8,504.6 472,509.7 468.3,516.1 466.5,522.4 466.1,527.9 467.4,532.5 468.3,532.3 470.5,525.9 472.9,520.5 475.6,515 475.6,513.3 478.3,508.8 476.5,504.2ZM479.3,568.7 481.4,569.6 481.1,576.9 483.8,580.6 482,586.9 480.2,588.7 479.3,582.4 478.9,575.1Z" fill="none" stroke="#000" stroke-width="0.7" stroke-linejoin="round"/>
<path d="M136.6,144.2 138.9,144.8 140.5,141.6" fill="none" stroke="#000" stroke-width="0.7" stroke-linecap="round"/>
<path d="M138.9,144.8 141,145.9" fill="none" stroke="#000" stroke-width="0.7" stroke-linecap="round"/>
<path d="M139.4,146.4 140.5,150.1" fill="none" stroke="#000" stroke-width="0.7" stroke-linecap="round"/>
<path d="M132.5,164 134.7,165" fill="none" stroke="#000" stroke-width="0.7" stroke-linecap="round"/>
<path d="M131.5,139.6 132.7,138.8 134.1,139.5" fill="none" stroke="#000" stroke-width="0.7" stroke-linecap="round"/>
<path d="M58.3,260.6 61,256.9 68.3,254.8 73.7,256 72.8,258.4 68.3,259.1 64.6,262.4 61,263.9Z" fill="#ffb0b0" stroke="#000" stroke-width="0.5" stroke-linejoin="round"/>
<path d="M65.5,274.8 68.3,271.5 70.5,274.8Z" fill="#ff9999" stroke="#000" stroke-width="0.5" stroke-linejoin="round"/>
<path d="M145.5,67.4 147.7,68.1 150.1,67.7 152.8,69.6 151.9,72.3 148.8,71.8 146.4,69.9Z" fill="#ffcccc" stroke="#000" stroke-width="0.5" stroke-linejoin="round"/>
<path d="M145.5,84.1 147.7,82.7 151,82.3 151.9,83.8 149.5,86.9 146.4,87.4Z" fill="#ffcccc" stroke="#000" stroke-width="0.5" stroke-linejoin="round"/>
<path d="M277.3,322.3 279.5,321.9 280.6,324.1 278.2,324.5Z" fill="#ffcc66" stroke="#000" stroke-width="0.5" stroke-linejoin="round"/>
<path d="M346.5,363.3 348.3,362.4 349.2,366.9 350.5,369.7 348,369.3Z" fill="#996600" stroke="#000" stroke-width="0.5" stroke-linejoin="round"/>
<path d="M392.8,426.8 395.5,428.7 398.2,430.5 400.6,434.1 397.3,436.5 395.1,433.2Z" fill="#ffcc66" stroke="#000" stroke-width="0.5" stroke-linejoin="round"/>
<path d="M374.6,422.3 376.4,421.9 376.2,425 374.9,425Z" fill="#996600" stroke="#000" stroke-width="0.5" stroke-linejoin="round"/>
<path d="M277.7,322.1 280.1,322.8 280.6,324.6 278.3,324.3Z" fill="#cc9933" stroke="#000" stroke-width="0.5" stroke-linejoin="round"/>
<path d="M392.8,426.4 394.1,427.4 395.2,431.9 393.7,432.8Z" fill="#996600" stroke="#000" stroke-width="0.5" stroke-linejoin="round"/>
<path d="M395.6,430.1 398.8,431 400.7,434.6 398.3,435.6 396.5,433.7Z" fill="#ffcc66" stroke="#000" stroke-width="0.5" stroke-linejoin="round"/>
<g stroke="#000" stroke-width="0.4">
<rect x="565.3" y="193.60" width="27" height="21.38" fill="#993300"/>
<rect x="565.3" y="214.98" width="27" height="21.38" fill="#996633"/>
<rect x="565.3" y="236.36" width="27" height="21.38" fill="#cc0000"/>
<rect x="565.3" y="257.74" width="27" height="21.38" fill="#ff3333"/>
<rect x="565.3" y="279.12" width="27" height="21.38" fill="#ff9999"/>
<rect x="565.3" y="300.50" width="27" height="21.38" fill="#ffcccc"/>
<rect x="565.3" y="321.88" width="27" height="21.38" fill="#ffcc66"/>
<rect x="565.3" y="343.26" width="27" height="21.38" fill="#ffff33"/>
<rect x="565.3" y="364.64" width="27" height="21.38" fill="#ffffcc"/>
<rect x="565.3" y="386.02" width="27" height="21.38" fill="#ccffcc"/>
<rect x="565.3" y="407.40" width="27" height="21.38" fill="#66ff66"/>
<rect x="565.3" y="428.78" width="27" height="21.38" fill="#00cc00"/>
<rect x="565.3" y="450.16" width="27" height="21.38" fill="#99ffff"/>
<rect x="565.3" y="471.54" width="27" height="21.38" fill="#33ccff"/>
<rect x="565.3" y="492.92" width="27" height="21.38" fill="#6666ff"/>
<rect x="565.3" y="514.30" width="27" height="21.38" fill="#cccccc"/>
<rect x="565.3" y="535.68" width="27" height="21.38" fill="#ffb3ff"/>
<rect x="565.3" y="557.06" width="27" height="21.38" fill="#ff00ff"/>
<rect x="565.3" y="578.44" width="27" height="21.38" fill="#990099"/>
</g>
<g class="tx">
<text x="598.2" y="218.73" font-size="9.4" textLength="11" lengthAdjust="spacingAndGlyphs">45</text>
<text x="609.3" y="214.23" font-size="6.2" textLength="3.2" lengthAdjust="spacingAndGlyphs">o</text>
<text x="612.8" y="218.73" font-size="9.4" textLength="7" lengthAdjust="spacingAndGlyphs">C</text>
<text x="598.2" y="240.11" font-size="9.4" textLength="11" lengthAdjust="spacingAndGlyphs">42</text>
<text x="609.3" y="235.61" font-size="6.2" textLength="3.2" lengthAdjust="spacingAndGlyphs">o</text>
<text x="612.8" y="240.11" font-size="9.4" textLength="7" lengthAdjust="spacingAndGlyphs">C</text>
<text x="598.2" y="261.49" font-size="9.4" textLength="11" lengthAdjust="spacingAndGlyphs">39</text>
<text x="609.3" y="256.99" font-size="6.2" textLength="3.2" lengthAdjust="spacingAndGlyphs">o</text>
<text x="612.8" y="261.49" font-size="9.4" textLength="7" lengthAdjust="spacingAndGlyphs">C</text>
<text x="598.2" y="282.87" font-size="9.4" textLength="11" lengthAdjust="spacingAndGlyphs">36</text>
<text x="609.3" y="278.37" font-size="6.2" textLength="3.2" lengthAdjust="spacingAndGlyphs">o</text>
<text x="612.8" y="282.87" font-size="9.4" textLength="7" lengthAdjust="spacingAndGlyphs">C</text>
<text x="598.2" y="304.25" font-size="9.4" textLength="11" lengthAdjust="spacingAndGlyphs">33</text>
<text x="609.3" y="299.75" font-size="6.2" textLength="3.2" lengthAdjust="spacingAndGlyphs">o</text>
<text x="612.8" y="304.25" font-size="9.4" textLength="7" lengthAdjust="spacingAndGlyphs">C</text>
<text x="598.2" y="325.63" font-size="9.4" textLength="11" lengthAdjust="spacingAndGlyphs">30</text>
<text x="609.3" y="321.13" font-size="6.2" textLength="3.2" lengthAdjust="spacingAndGlyphs">o</text>
<text x="612.8" y="325.63" font-size="9.4" textLength="7" lengthAdjust="spacingAndGlyphs">C</text>
<text x="598.2" y="347.01" font-size="9.4" textLength="11" lengthAdjust="spacingAndGlyphs">27</text>
<text x="609.3" y="342.51" font-size="6.2" textLength="3.2" lengthAdjust="spacingAndGlyphs">o</text>
<text x="612.8" y="347.01" font-size="9.4" textLength="7" lengthAdjust="spacingAndGlyphs">C</text>
<text x="598.2" y="368.39" font-size="9.4" textLength="11" lengthAdjust="spacingAndGlyphs">24</text>
<text x="609.3" y="363.89" font-size="6.2" textLength="3.2" lengthAdjust="spacingAndGlyphs">o</text>
<text x="612.8" y="368.39" font-size="9.4" textLength="7" lengthAdjust="spacingAndGlyphs">C</text>
<text x="598.2" y="389.77" font-size="9.4" textLength="11" lengthAdjust="spacingAndGlyphs">21</text>
<text x="609.3" y="385.27" font-size="6.2" textLength="3.2" lengthAdjust="spacingAndGlyphs">o</text>
<text x="612.8" y="389.77" font-size="9.4" textLength="7" lengthAdjust="spacingAndGlyphs">C</text>
<text x="598.2" y="411.15" font-size="9.4" textLength="11" lengthAdjust="spacingAndGlyphs">18</text>
<text x="609.3" y="406.65" font-size="6.2" textLength="3.2" lengthAdjust="spacingAndGlyphs">o</text>
<text x="612.8" y="411.15" font-size="9.4" textLength="7" lengthAdjust="spacingAndGlyphs">C</text>
<text x="598.2" y="432.53" font-size="9.4" textLength="11" lengthAdjust="spacingAndGlyphs">15</text>
<text x="609.3" y="428.03" font-size="6.2" textLength="3.2" lengthAdjust="spacingAndGlyphs">o</text>
<text x="612.8" y="432.53" font-size="9.4" textLength="7" lengthAdjust="spacingAndGlyphs">C</text>
<text x="598.2" y="453.91" font-size="9.4" textLength="11" lengthAdjust="spacingAndGlyphs">12</text>
<text x="609.3" y="449.41" font-size="6.2" textLength="3.2" lengthAdjust="spacingAndGlyphs">o</text>
<text x="612.8" y="453.91" font-size="9.4" textLength="7" lengthAdjust="spacingAndGlyphs">C</text>
<text x="600.95" y="475.29" font-size="9.4" textLength="5.5" lengthAdjust="spacingAndGlyphs">9</text>
<text x="606.55" y="470.79" font-size="6.2" textLength="3.2" lengthAdjust="spacingAndGlyphs">o</text>
<text x="610.05" y="475.29" font-size="9.4" textLength="7" lengthAdjust="spacingAndGlyphs">C</text>
<text x="600.95" y="496.67" font-size="9.4" textLength="5.5" lengthAdjust="spacingAndGlyphs">6</text>
<text x="606.55" y="492.17" font-size="6.2" textLength="3.2" lengthAdjust="spacingAndGlyphs">o</text>
<text x="610.05" y="496.67" font-size="9.4" textLength="7" lengthAdjust="spacingAndGlyphs">C</text>
<text x="600.95" y="518.05" font-size="9.4" textLength="5.5" lengthAdjust="spacingAndGlyphs">3</text>
<text x="606.55" y="513.55" font-size="6.2" textLength="3.2" lengthAdjust="spacingAndGlyphs">o</text>
<text x="610.05" y="518.05" font-size="9.4" textLength="7" lengthAdjust="spacingAndGlyphs">C</text>
<text x="600.95" y="539.43" font-size="9.4" textLength="5.5" lengthAdjust="spacingAndGlyphs">0</text>
<text x="606.55" y="534.93" font-size="6.2" textLength="3.2" lengthAdjust="spacingAndGlyphs">o</text>
<text x="610.05" y="539.43" font-size="9.4" textLength="7" lengthAdjust="spacingAndGlyphs">C</text>
<text x="599.25" y="560.81" font-size="9.4" textLength="8.9" lengthAdjust="spacingAndGlyphs">-3</text>
<text x="608.25" y="556.31" font-size="6.2" textLength="3.2" lengthAdjust="spacingAndGlyphs">o</text>
<text x="611.75" y="560.81" font-size="9.4" textLength="7" lengthAdjust="spacingAndGlyphs">C</text>
<text x="599.25" y="582.19" font-size="9.4" textLength="8.9" lengthAdjust="spacingAndGlyphs">-6</text>
<text x="608.25" y="577.69" font-size="6.2" textLength="3.2" lengthAdjust="spacingAndGlyphs">o</text>
<text x="611.75" y="582.19" font-size="9.4" textLength="7" lengthAdjust="spacingAndGlyphs">C</text>
<text x="192.5" y="9.5" font-size="10.9" textLength="129.9" lengthAdjust="spacingAndGlyphs" class="tt">Maximum Temperature (</text>
<text x="323.6" y="4" font-size="6.6" textLength="3.6" lengthAdjust="spacingAndGlyphs">o</text>
<text x="327.7" y="9.5" font-size="10.9" textLength="11.1" lengthAdjust="spacingAndGlyphs" class="tt">C)</text>
<text x="373.2" y="9.5" font-size="10.9" textLength="107.5" lengthAdjust="spacingAndGlyphs" class="tt">2nd November 2008</text>
<text x="253.5" y="26.4" font-size="8.9" textLength="166.6" lengthAdjust="spacingAndGlyphs">Product of the National Climate Centre</text>
<text x="4.8" y="643.6" font-size="7.4" textLength="76.8" lengthAdjust="spacingAndGlyphs">http://www.bom.gov.au</text>
<text x="0.7" y="657.2" font-size="7.4" textLength="236.7" lengthAdjust="spacingAndGlyphs">© Commonwealth of Australia 2009, Australian Bureau of Meteorology</text>
<text x="609.4" y="657.2" font-size="7.2" textLength="63.5" lengthAdjust="spacingAndGlyphs">Issued: 31/01/2009</text>
</g>
</svg>
</body>
</html>
